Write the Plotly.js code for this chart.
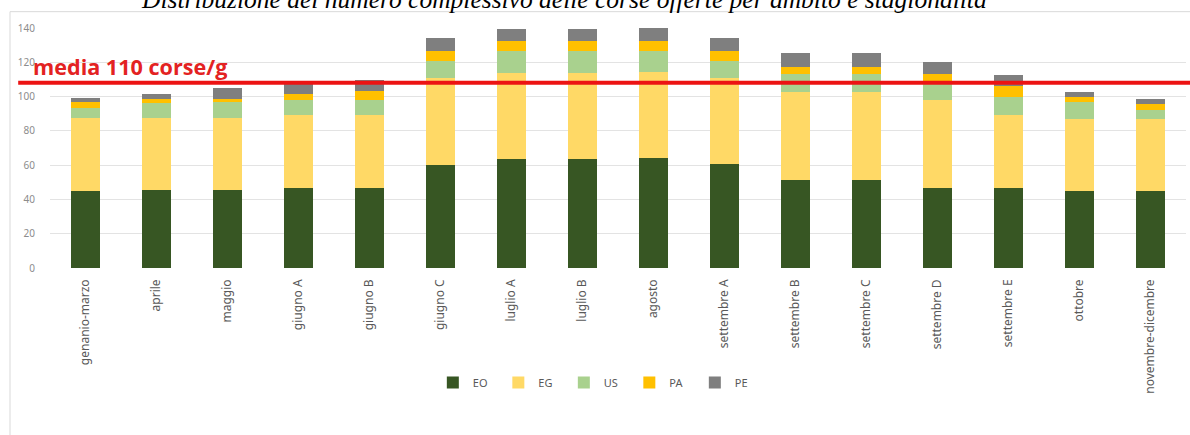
<!DOCTYPE html>
<html>
<head>
<meta charset="utf-8">
<script src="https://cdn.plot.ly/plotly-3.0.1.min.js"></script>
<style>html,body{margin:0;padding:0;background:#fff;}#chart{width:1190px;height:435px;}</style>
</head>
<body>
<div id="chart"></div>
<script>
const categories = ["genanio-marzo","aprile","maggio","giugno A","giugno B","giugno C","luglio A","luglio B","agosto","settembre A","settembre B","settembre C","settembre D","settembre E","ottobre","novembre-dicembre"];
const EO = [45, 45.5, 45.5, 46.5, 46.5, 60, 63.5, 63.5, 64, 60.5, 51.5, 51.5, 46.5, 46.5, 45, 45];
const EG = [42.4, 41.9, 41.9, 42.8, 42.8, 50.8, 50.2, 50.2, 50.6, 50.3, 51.1, 51.1, 51.6, 42.8, 42, 42];
const US = [5.7, 9, 9.6, 8.8, 8.8, 9.7, 12.6, 12.6, 11.7, 10.1, 10.7, 10.7, 9.4, 10.7, 9.7, 5.2];
const PA = [3.5, 2, 1.5, 3.3, 5.4, 5.8, 5.9, 5.9, 5.9, 5.4, 4.2, 4.2, 5.8, 6, 3.3, 3.5];
const PE = [2.5, 3, 6.4, 6.4, 6.3, 7.8, 7.2, 7.2, 8.2, 7.8, 7.9, 7.9, 6.8, 6.7, 2.9, 3];
const seriesNames = ["EO","EG","US","PA","PE"];
const seriesColors = ["#375623","#ffd966","#a9d18e","#ffc000","#7f7f7f"];
const mediaValue = 108;
const mediaLabel = "media 110 corse/g";
const titleText = "Distribuzione del numero complessivo delle corse offerte per ambito e stagionalità";

const seriesValues = [EO, EG, US, PA, PE];
const traces = seriesNames.map((n, i) => ({
  type: "bar", name: n, x: categories, y: seriesValues[i],
  marker: {color: seriesColors[i]}, hoverinfo: "x+y+name"
}));

const layout = {
  width: 1190, height: 435,
  margin: {l: 50, r: 4, t: 28, b: 167},
  barmode: "stack", bargap: 0.6,
  paper_bgcolor: "#ffffff", plot_bgcolor: "#ffffff",
  font: {family: "Noto Sans, sans-serif", color: "#595959"},
  showlegend: true,
  legend: {orientation: "h", x: 0.337, xanchor: "left", y: -0.477, yanchor: "middle",
    font: {size: 11, color: "#595959"}, entrywidth: 20.5, itemwidth: 30, traceorder: "normal"},
  xaxis: {type: "category", tickangle: -90, showgrid: false, zeroline: false, showline: false,
    ticks: "", tickfont: {size: 12, color: "#595959"}, ticklabelstandoff: 8, automargin: false},
  yaxis: {range: [0, 140], dtick: 20, tick0: 0, showgrid: true, gridcolor: "#e3e3e3", gridwidth: 1,
    zeroline: false, showline: false, ticks: "", tickfont: {size: 10, color: "#8c8c8c"},
    ticklabelstandoff: 14, automargin: false},
  shapes: [
    {type: "rect", xref: "paper", yref: "paper", x0: -0.0352, x1: 1.02, y0: -0.75, y1: 1.068,
      line: {color: "#d9d9d9", width: 1}, fillcolor: "rgba(0,0,0,0)", layer: "below"},
    {type: "line", xref: "paper", yref: "y", x0: -0.028, x1: 1.01, y0: mediaValue, y1: mediaValue,
      line: {color: "#ec1313", width: 4}}
  ],
  annotations: [
    {text: titleText, xref: "paper", yref: "paper", x: 0.4525, y: 1.05, xanchor: "center", yanchor: "bottom",
      showarrow: false, font: {family: "Liberation Serif, Times New Roman, serif", size: 25.5, color: "#000000", style: "italic"}},
    {text: "<b>" + mediaLabel + "</b>", xref: "paper", yref: "y", x: -0.017, y: 117.6, xanchor: "left", yanchor: "middle",
      showarrow: false, font: {family: "Open Sans, sans-serif", size: 21.6, color: "#e32222"}}
  ]
};

Plotly.newPlot("chart", traces, layout, {displayModeBar: false, staticPlot: true});
</script>
</body>
</html>
